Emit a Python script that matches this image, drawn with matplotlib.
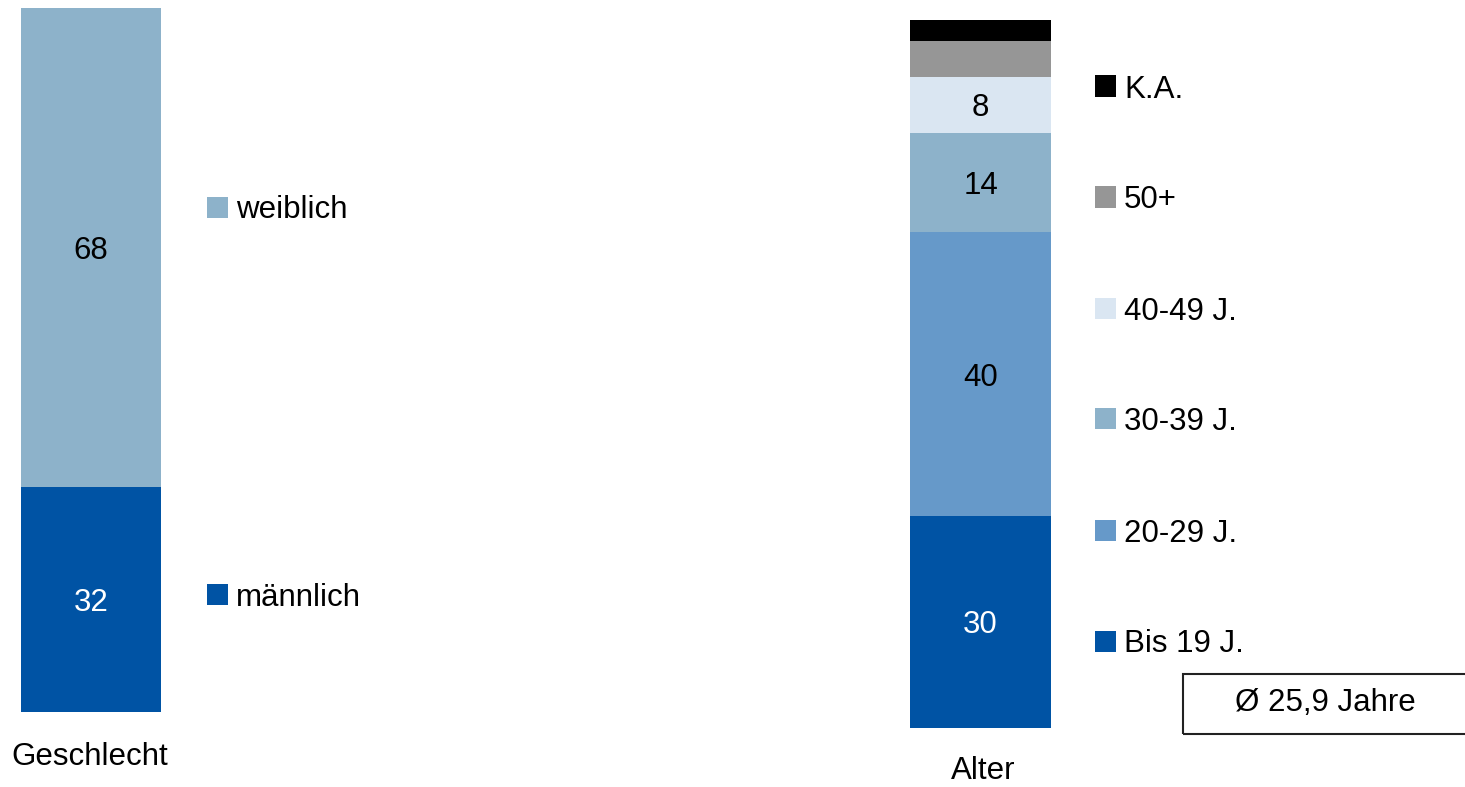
import matplotlib
matplotlib.use("Agg")
import matplotlib.pyplot as plt
from matplotlib.patches import Rectangle

plt.rcParams['font.family'] = ['Liberation Sans', 'DejaVu Sans']

# data
sex_labels = ['männlich', 'weiblich']
sex_values = [32, 68]
sex_colors = ['#0053A4', '#8DB2CA']

age_labels = ['Bis 19 J.', '20-29 J.', '30-39 J.', '40-49 J.', '50+', 'K.A.']
age_values = [30, 40, 14, 8, 5, 3]
age_colors = ['#0053A4', '#6699C9', '#8DB2CA', '#DAE6F2', '#969696', '#000000']
age_shown = [True, True, True, True, False, False]

W, H = 1465, 787
fig = plt.figure(figsize=(W / 100, H / 100), dpi=100)
FS = 22.5


def px_axes(x0, y0, x1, y1):
    # pixel box (top-left origin) -> axes
    return fig.add_axes([x0 / W, 1 - y1 / H, (x1 - x0) / W, (y1 - y0) / H])


def stacked(ax, values, colors, shown):
    bottom = 0
    for i, v in enumerate(values):
        ax.bar(0, v, width=1, bottom=bottom, color=colors[i], linewidth=0)
        if shown[i]:
            tc = 'white' if i == 0 else 'black'
            ax.text(0, bottom + v / 2, str(v), ha='center', va='center_baseline',
                    fontsize=FS, color=tc)
        bottom += v
    ax.set_xlim(-0.5, 0.5)
    ax.set_ylim(0, sum(values))
    ax.axis('off')


def legend(labels, colors, x_sq, y_first, step):
    # y_first = pixel centre of the top entry, step going down
    n = len(labels)
    for k in range(n):
        i = n - 1 - k
        yc = y_first + k * step
        fig.patches.append(Rectangle((x_sq / W, 1 - (yc + 10.5) / H), 21 / W, 21 / H,
                                     transform=fig.transFigure, color=colors[i],
                                     linewidth=0))
        fig.text((x_sq + 29) / W, 1 - yc / H, labels[i], fontsize=FS,
                 ha='left', va='center_baseline')


ax1 = px_axes(21, 8, 161, 712)
stacked(ax1, sex_values, sex_colors, [True, True])
legend(sex_labels, sex_colors, 207, 207, 387)
fig.text(90 / W, 1 - 757 / H, 'Geschlecht', fontsize=FS, ha='center', va='center')

ax2 = px_axes(910, 20, 1051, 728)
stacked(ax2, age_values, age_colors, age_shown)
legend(age_labels, age_colors, 1095, 86, 111)
fig.text(983 / W, 1 - 771 / H, 'Alter', fontsize=FS, ha='center', va='center')

fig.patches.append(Rectangle((1183 / W, 1 - 734 / H), 300 / W, 60 / H,
                             transform=fig.transFigure, fill=False,
                             edgecolor='#222222', linewidth=1.5))
fig.text(1325 / W, 1 - 703 / H, 'Ø 25,9 Jahre', fontsize=FS, ha='center', va='center')

fig.savefig('out.png', dpi=100, facecolor='white')
